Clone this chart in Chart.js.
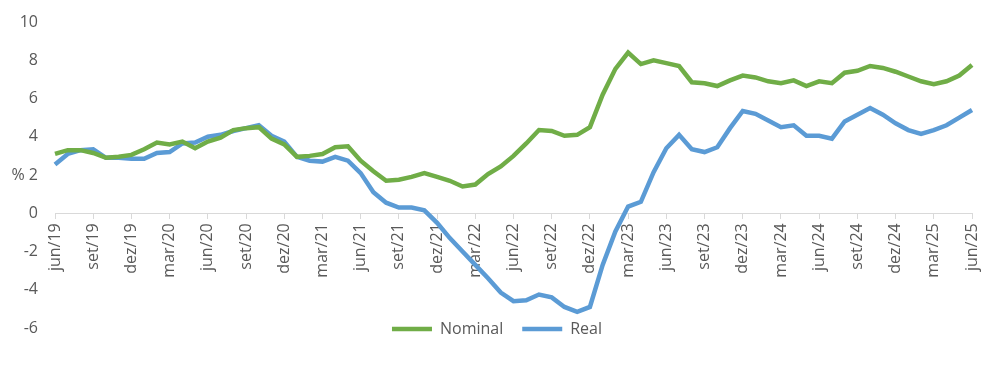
<!DOCTYPE html>
<html>
<head>
<meta charset="utf-8">
<script src="https://cdn.jsdelivr.net/npm/chart.js@4/dist/chart.umd.min.js"></script>
<style>
  html, body { margin: 0; padding: 0; background: #fff; }
  #box { width: 1005px; height: 365px; position: relative; }
</style>
</head>
<body>
<div id="box"><canvas id="grafico"></canvas></div>
<script>
// meses (jun/19 a jun/25)
const meses = ['jan', 'fev', 'mar', 'abr', 'mai', 'jun', 'jul', 'ago', 'set', 'out', 'nov', 'dez'];
const anoInicio = 2019, mesInicio = 5, totalMeses = 73;
const rotulos = [];
for (let i = 0; i < totalMeses; i++) {
    const m = (mesInicio + i) % 12;
    const a = anoInicio + Math.floor((mesInicio + i) / 12);
    rotulos.push(meses[m] + '/' + String(a).slice(2));
}

const nominal = [3.1, 3.3, 3.3, 3.15, 2.9, 2.95, 3.05, 3.35, 3.7, 3.6, 3.75, 3.4,
    3.75, 3.95, 4.35, 4.45, 4.5, 3.9, 3.6, 2.95, 3.0, 3.1, 3.45, 3.5,
    2.75, 2.2, 1.7, 1.75, 1.9, 2.1, 1.9, 1.7, 1.4, 1.5, 2.05, 2.45,
    3.0, 3.65, 4.35, 4.3, 4.05, 4.1, 4.5, 6.2, 7.55, 8.4, 7.8, 8.0,
    7.85, 7.7, 6.85, 6.8, 6.65, 6.95, 7.2, 7.1, 6.9, 6.8, 6.95, 6.65,
    6.9, 6.8, 7.35, 7.45, 7.7, 7.6, 7.4, 7.15, 6.9, 6.75, 6.9, 7.2, 7.75];

const real = [2.55, 3.1, 3.3, 3.35, 2.9, 2.9, 2.85, 2.85, 3.15, 3.2, 3.65, 3.7,
    4.0, 4.1, 4.3, 4.45, 4.6, 4.05, 3.75, 2.95, 2.75, 2.7, 2.95, 2.75,
    2.1, 1.1, 0.55, 0.3, 0.3, 0.15, -0.5, -1.3, -2.0, -2.7, -3.4, -4.15,
    -4.6, -4.55, -4.25, -4.4, -4.9, -5.15, -4.9, -2.7, -0.95, 0.35, 0.6, 2.15,
    3.4, 4.1, 3.35, 3.2, 3.45, 4.45, 5.35, 5.2, 4.85, 4.5, 4.6, 4.05,
    4.05, 3.9, 4.8, 5.15, 5.5, 5.15, 4.7, 4.35, 4.15, 4.35, 4.6, 5.0, 5.4];

const yMin = -6, yMax = 10, yPasso = 2;

Chart.defaults.font.family = "'Open Sans', sans-serif";
Chart.defaults.color = '#595959';

// sobe a legenda para a altura do -6
const legendaNoFundo = {
    id: 'legendaNoFundo',
    afterLayout(chart) {
        const leg = chart.legend;
        if (!leg) return;
        const pad = leg.options.labels.padding;
        const alvo = chart.chartArea.bottom + 1;
        const dy = alvo - (leg.top + pad + 8);
        leg.top += dy;
        leg.bottom += dy;
        leg.left += 11;
        leg.right += 11;
    }
};

document.addEventListener("DOMContentLoaded", function () {
    const ctx = document.getElementById('grafico').getContext('2d');

    new Chart(ctx, {
        type: 'line',
        data: {
            labels: rotulos,
            datasets: [{
                label: 'Nominal',
                data: nominal,
                borderColor: '#70AD47',
                backgroundColor: '#70AD47',
                borderWidth: 4.5,
                pointRadius: 0,
                tension: 0,
                fill: false
            }, {
                label: 'Real',
                data: real,
                borderColor: '#5B9BD5',
                backgroundColor: '#5B9BD5',
                borderWidth: 4.5,
                pointRadius: 0,
                tension: 0,
                fill: false
            }]
        },
        options: {
            responsive: true,
            maintainAspectRatio: false,
            animation: false,
            layout: { padding: { top: 22, right: 33, left: 0, bottom: 0 } },
            plugins: {
                legend: {
                    position: 'bottom',
                    maxHeight: 37,
                    labels: {
                        boxWidth: 40,
                        boxHeight: 0,
                        padding: 19,
                        color: '#595959',
                        font: { size: 16 }
                    }
                },
                tooltip: { enabled: false }
            },
            scales: {
                x: {
                    position: { y: 0 },
                    grid: {
                        drawOnChartArea: false,
                        drawTicks: true,
                        tickLength: 5,
                        color: '#D9D9D9'
                    },
                    border: { display: true, color: '#D9D9D9', width: 1 },
                    ticks: {
                        autoSkip: false,
                        maxRotation: 90,
                        minRotation: 90,
                        padding: 5,
                        color: '#595959',
                        font: { size: 16 },
                        callback: function (v, i) {
                            return i % 3 === 0 ? rotulos[i] : null;
                        }
                    }
                },
                y: {
                    min: yMin,
                    max: yMax,
                    // tracinhos invisiveis so para afastar os numeros do eixo
                    grid: { drawOnChartArea: false, drawTicks: true, tickLength: 17, color: 'rgba(0,0,0,0)' },
                    border: { display: false },
                    afterFit: function (s) { s.width = 55; },
                    ticks: {
                        stepSize: yPasso,
                        padding: 0,
                        color: '#595959',
                        font: { size: 16 },
                        callback: function (v) {
                            return v === 2 ? '% 2' : v;
                        }
                    }
                }
            }
        },
        plugins: [legendaNoFundo]
    });
});
</script>
</body>
</html>
